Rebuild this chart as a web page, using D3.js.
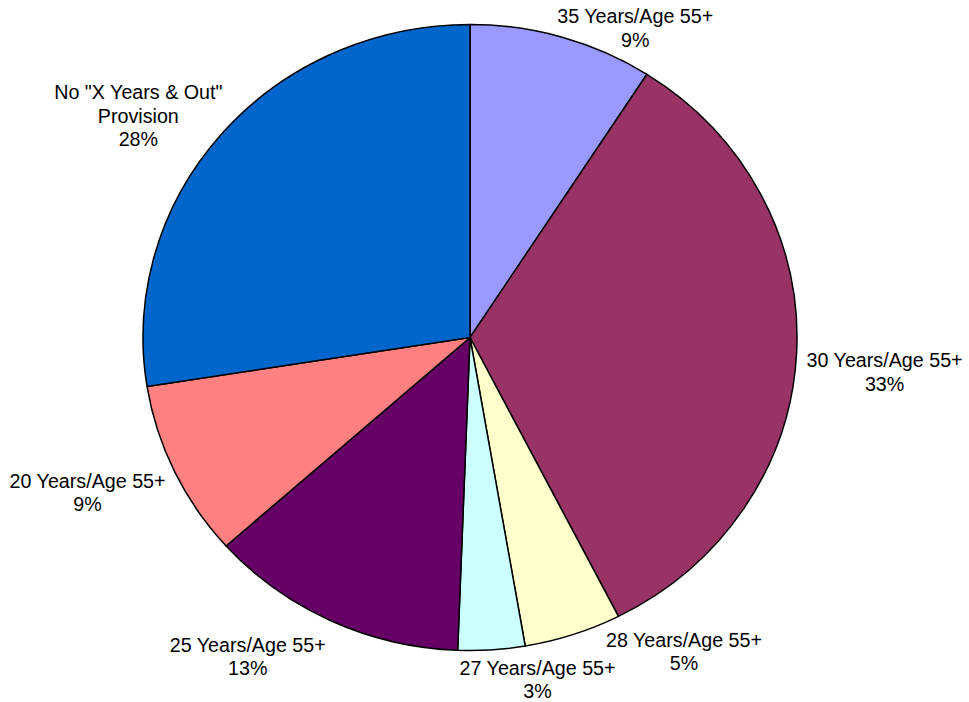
<!DOCTYPE html>
<html>
<head>
<meta charset="utf-8">
<script src="https://cdn.jsdelivr.net/npm/d3@7"></script>
<style>
  html, body { margin: 0; padding: 0; background: #fff; }
  svg { display: block; }
  text { font-family: Arial, "Liberation Sans", sans-serif; font-size: 19.7px; fill: #000; }
</style>
</head>
<body>
<div id="chart"></div>
<script>
// --- Datos (sentido horario desde las 12) ---
const labels = [
  ["35 Years/Age 55+"],
  ["30 Years/Age 55+"],
  ["28 Years/Age 55+"],
  ["27 Years/Age 55+"],
  ["25 Years/Age 55+"],
  ["20 Years/Age 55+"],
  ['No "X Years & Out"', "Provision"]
];
const values = [9.1, 33.4, 4.8, 3.3, 12.8, 9.1, 27.5];
const pctLabels = ["9%", "33%", "5%", "3%", "13%", "9%", "28%"];
const colors = ["#9999FF", "#993366", "#FFFFCC", "#CCFFFF", "#660066", "#FF8080", "#0066CC"];

// ajuste fino de etiquetas (px respecto al borde del sector)
const labelNudge = [[73, -14], [88, 14], [111, 12], [46, 25], [-83, 31], [-87, 16], [-83, -35]];

const width = 969, height = 702;
const cx = 470, cy = 337.5;
const rx = 327, ry = 313;   // el pastel es levemente elíptico
const lineH = 23.5;

const svg = d3.select("#chart").append("svg")
  .attr("width", width)
  .attr("height", height);

svg.append("rect").attr("width", width).attr("height", height).attr("fill", "#fff");

const pie = d3.pie().sort(null).value(d => d);
const arcs = pie(values);
const arc = d3.arc().innerRadius(0).outerRadius(ry);

// --- Sectores ---
svg.append("g")
  .attr("transform", `translate(${cx},${cy}) scale(${rx / ry},1)`)
  .selectAll("path")
  .data(arcs)
  .join("path")
  .attr("d", arc)
  .attr("fill", (d, i) => colors[i])
  .attr("stroke", "#000")
  .attr("stroke-width", 1.5)
  .attr("stroke-linejoin", "round")
  .attr("vector-effect", "non-scaling-stroke");

// --- Etiquetas ---
const lbl = svg.append("g");
arcs.forEach((d, i) => {
  const a = (d.startAngle + d.endAngle) / 2;
  const px = cx + rx * Math.sin(a);
  const py = cy - ry * Math.cos(a);
  const x = px + labelNudge[i][0];
  const y = py + labelNudge[i][1];
  const lines = labels[i].concat([pctLabels[i]]);
  const t = lbl.append("text")
    .attr("text-anchor", "middle")
    .attr("x", x)
    .attr("y", y);
  lines.forEach((s, k) => {
    t.append("tspan")
      .attr("x", x)
      .attr("y", y + k * lineH)
      .text(s);
  });
});
</script>
</body>
</html>
